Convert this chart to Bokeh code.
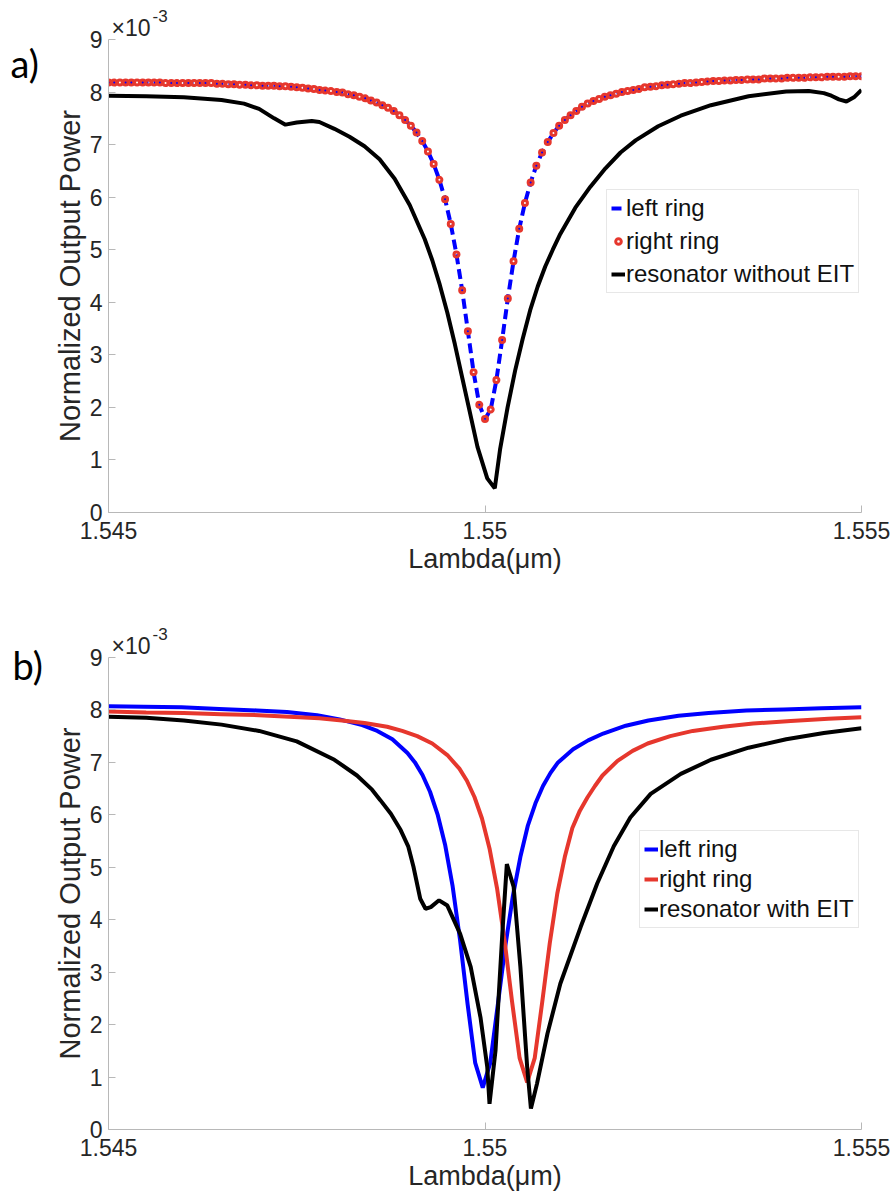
import numpy as np
from bokeh.plotting import figure
from bokeh.models import Range1d, FixedTicker, Legend, LegendItem, Label
from bokeh.layouts import column
from bokeh.embed import file_html
from bokeh.resources import INLINE

# ---------------- data (values in units of 1e-3) ----------------
x_ticks = [1.545, 1.55, 1.555]
x_tick_labels = ["1.545", "1.55", "1.555"]
y_ticks = [0, 1, 2, 3, 4, 5, 6, 7, 8, 9]

# panel a: both rings share the same sampling (133 samples)
lam_ring_a = np.linspace(1.545, 1.555, 133)
left_ring_a = [
    8.18, 8.18, 8.18, 8.18, 8.18, 8.18, 8.18, 8.18, 8.18, 8.18,
    8.17, 8.17, 8.17, 8.17, 8.17, 8.17, 8.17, 8.17, 8.17, 8.16,
    8.16, 8.15, 8.15, 8.14, 8.14, 8.13, 8.13, 8.12, 8.12, 8.12,
    8.11, 8.11, 8.10, 8.09, 8.08, 8.07, 8.06, 8.04, 8.03, 8.02,
    8.00, 7.99, 7.96, 7.94, 7.91, 7.88, 7.84, 7.80, 7.75, 7.70,
    7.64, 7.56, 7.47, 7.36, 7.23, 7.07, 6.87, 6.63, 6.33, 5.96,
    5.49, 4.91, 4.23, 3.45, 2.67, 2.05, 1.78, 1.96, 2.52, 3.28,
    4.07, 4.78, 5.40, 5.89, 6.28, 6.60, 6.85, 7.05, 7.22, 7.36,
    7.47, 7.56, 7.64, 7.72, 7.78, 7.83, 7.87, 7.91, 7.94, 7.97,
    8.00, 8.02, 8.04, 8.06, 8.09, 8.10, 8.11, 8.13, 8.14, 8.15,
    8.16, 8.17, 8.17, 8.18, 8.19, 8.20, 8.21, 8.21, 8.22, 8.22,
    8.23, 8.23, 8.24, 8.24, 8.24, 8.26, 8.26, 8.26, 8.26, 8.27,
    8.27, 8.27, 8.27, 8.28, 8.28, 8.28, 8.29, 8.29, 8.29, 8.29,
    8.30, 8.30, 8.30,
]
right_ring_a = list(left_ring_a)  # identical rings in panel a

lam_res_a = [1.5450, 1.5455, 1.5460, 1.5465, 1.5468, 1.5470, 1.5472, 1.54735,
             1.5475, 1.5477, 1.5478, 1.5480, 1.5482, 1.5484, 1.5486, 1.5488,
             1.5490, 1.5492, 1.5493, 1.5494, 1.5495, 1.5496, 1.5497, 1.5498,
             1.5499, 1.55003, 1.55013, 1.5502, 1.5503, 1.5504, 1.5505, 1.5506,
             1.5507, 1.5508, 1.5509, 1.5510, 1.5512, 1.5514, 1.5516, 1.5518,
             1.5520, 1.5523, 1.5526, 1.5530, 1.5535, 1.5540, 1.5543, 1.5545,
             1.5546, 1.5547, 1.5548, 1.5549, 1.5550]
res_a = [7.93, 7.92, 7.90, 7.85, 7.78, 7.68, 7.50, 7.38,
         7.42, 7.45, 7.43, 7.30, 7.15, 6.97, 6.72, 6.35,
         5.85, 5.20, 4.80, 4.33, 3.80, 3.20, 2.55, 1.90,
         1.25, 0.65, 0.46, 1.20, 2.00, 2.70, 3.30, 3.85,
         4.30, 4.68, 5.00, 5.30, 5.80, 6.20, 6.55, 6.85,
         7.08, 7.35, 7.55, 7.75, 7.92, 8.01, 8.02, 7.98,
         7.93, 7.86, 7.82, 7.90, 8.04]

# panel b
lam_left_b = [1.5450, 1.54547, 1.54597, 1.54647, 1.54697, 1.54737, 1.54777, 1.54807,
              1.54837, 1.54857, 1.54877, 1.54897, 1.54907, 1.54917, 1.54927, 1.54937,
              1.54947, 1.54957, 1.54967, 1.54977, 1.54987, 1.54997, 1.55007, 1.55017,
              1.55027, 1.55037, 1.55047, 1.55057, 1.55067, 1.55077, 1.55087, 1.55097,
              1.55117, 1.55137, 1.55157, 1.55187, 1.55217, 1.55257, 1.55297, 1.55347,
              1.55397, 1.55447, 1.5550]
left_ring_b = [8.07, 8.06, 8.05, 8.02, 7.99, 7.96, 7.90, 7.82,
               7.71, 7.60, 7.44, 7.18, 7.00, 6.76, 6.44, 6.01,
               5.43, 4.64, 3.60, 2.38, 1.27, 0.80, 1.27, 2.38,
               3.50, 4.45, 5.20, 5.80, 6.22, 6.55, 6.80, 7.00,
               7.25, 7.42, 7.55, 7.70, 7.80, 7.89, 7.94, 7.99,
               8.01, 8.03, 8.05]

lam_right_b = [1.5450, 1.5455, 1.5460, 1.5465, 1.5470, 1.5474, 1.5478, 1.5481,
               1.5484, 1.5487, 1.5489, 1.5491, 1.5493, 1.5495, 1.54966, 1.54976,
               1.54986, 1.54996, 1.55006, 1.55016, 1.55026, 1.55036, 1.55046, 1.55056,
               1.55066, 1.55076, 1.55086, 1.55096, 1.55106, 1.55116, 1.55126, 1.55136,
               1.55146, 1.55156, 1.55176, 1.55196, 1.55216, 1.55246, 1.55276, 1.55316,
               1.55356, 1.55406, 1.55456, 1.5550]
right_ring_b = [7.97, 7.95, 7.94, 7.92, 7.90, 7.87, 7.84, 7.80,
                7.75, 7.68, 7.60, 7.50, 7.36, 7.14, 6.88, 6.65,
                6.34, 5.93, 5.36, 4.60, 3.60, 2.43, 1.36, 0.90,
                1.36, 2.43, 3.55, 4.50, 5.20, 5.75, 6.08, 6.33,
                6.55, 6.75, 7.03, 7.22, 7.36, 7.50, 7.60, 7.68,
                7.74, 7.79, 7.83, 7.86]

lam_res_b = [1.5450, 1.5455, 1.5460, 1.5465, 1.5470, 1.5475, 1.5480, 1.5483,
             1.5485, 1.54861, 1.54875, 1.54888, 1.54898, 1.54905, 1.54914, 1.54921,
             1.54928, 1.54939, 1.54950, 1.54967, 1.54981, 1.54994, 1.55003, 1.55006,
             1.55014, 1.55023, 1.55029, 1.55038, 1.55047, 1.55056, 1.55061, 1.55069,
             1.55083, 1.55100, 1.55127, 1.55149, 1.55171, 1.55193, 1.5522, 1.5526,
             1.5530, 1.5535, 1.5540, 1.5545, 1.5550]
res_b = [7.87, 7.85, 7.80, 7.72, 7.60, 7.40, 7.05, 6.75,
         6.48, 6.28, 6.02, 5.71, 5.40, 5.01, 4.40, 4.21,
         4.24, 4.37, 4.27, 3.73, 3.10, 2.14, 1.19, 0.49,
         1.51, 3.73, 5.06, 4.63, 3.10, 1.19, 0.40, 0.87,
         1.83, 2.78, 3.86, 4.69, 5.40, 5.95, 6.40, 6.78,
         7.05, 7.28, 7.44, 7.56, 7.65]

BLUE = "#0000ff"
RED = "#e6372d"
BLACK = "#000000"
FONT = "Liberation Sans"
TXT = "#262626"
AXC = "#b8b8b8"


def make_fig(height, top, bottom, mult_y):
    p = figure(width=896, height=height, x_range=Range1d(1.545, 1.555),
               y_range=Range1d(0, 9), output_backend="svg", toolbar_location=None,
               min_border_left=108, min_border_right=35,
               min_border_top=top, min_border_bottom=bottom)
    p.xgrid.visible = False
    p.ygrid.visible = False
    p.outline_line_color = None
    p.background_fill_color = "white"
    p.border_fill_color = "white"
    p.xaxis.ticker = FixedTicker(ticks=x_ticks)
    p.xaxis.major_label_overrides = {t: s for t, s in zip(x_ticks, x_tick_labels)}
    p.yaxis.ticker = FixedTicker(ticks=y_ticks)
    for ax in (p.xaxis[0], p.yaxis[0]):
        ax.axis_line_color = AXC
        ax.axis_line_width = 1
        ax.major_tick_line_color = AXC
        ax.major_tick_in = 7
        ax.major_tick_out = 0
        ax.minor_tick_line_color = None
        ax.major_label_text_font = FONT
        ax.major_label_text_font_size = "23px"
        ax.major_label_text_color = TXT
        ax.axis_label_text_font = FONT
        ax.axis_label_text_font_style = "normal"
        ax.axis_label_text_color = TXT
    p.xaxis.axis_label_text_font_size = "27px"
    p.yaxis.axis_label_text_font_size = "29px"
    p.xaxis.major_label_standoff = 9
    p.yaxis.major_label_standoff = 6
    p.xaxis.axis_label = "Lambda(\u03bcm)"
    p.yaxis.axis_label = "Normalized Output Power"
    p.xaxis.axis_label_standoff = 2
    p.yaxis.axis_label_standoff = 1
    # exponent marker "x10^-3" (labels live in side panels so they are not clipped)
    p.add_layout(Label(x=111, y=mult_y, x_units="canvas", y_units="canvas", text="\u00d710",
                       text_font=FONT, text_font_size="23px", text_color=TXT,
                       text_baseline="middle", text_align="left"), "above")
    p.add_layout(Label(x=152, y=mult_y - 12, x_units="canvas", y_units="canvas", text="-3",
                       text_font=FONT, text_font_size="17px", text_color=TXT,
                       text_baseline="middle", text_align="left"), "right")
    return p


def style_legend(leg, spacing):
    leg.label_text_font = FONT
    leg.label_text_font_size = "24px"
    leg.label_text_color = "#111111"
    leg.glyph_width = 14
    leg.glyph_height = 24
    leg.label_height = 24
    leg.label_standoff = 1
    leg.padding = 4
    leg.spacing = spacing
    leg.margin = 0
    leg.border_line_color = "#cfcfcf"
    leg.border_line_width = 1
    leg.background_fill_alpha = 1


# ---------------- panel a ----------------
pa = make_fig(590, 39, 78, 27)
ra1 = pa.line(lam_ring_a, left_ring_a, line_color=BLUE, line_width=4, line_dash="10 5")
ra2 = pa.scatter(lam_ring_a, right_ring_a, marker="circle", size=5, fill_color=None,
                 line_color=RED, line_width=3)
ra3 = pa.line(lam_res_a, res_a, line_color=BLACK, line_width=4)
leg_a = Legend(items=[LegendItem(label="left ring", renderers=[ra1]),
                      LegendItem(label="right ring", renderers=[ra2]),
                      LegendItem(label="resonator without EIT", renderers=[ra3])],
               location=(498, 219))
style_legend(leg_a, 5)
pa.add_layout(leg_a)
pa.add_layout(Label(x=10, y=62, x_units="canvas", y_units="canvas", text="a)",
                    text_font="Lato", text_font_size="38px", text_color="#000000",
                    text_baseline="middle", text_align="left"), "left")

# ---------------- panel b ----------------
pb = make_fig(608, 67, 69, 55)
rb1 = pb.line(lam_left_b, left_ring_b, line_color=BLUE, line_width=4)
rb2 = pb.line(lam_right_b, right_ring_b, line_color=RED, line_width=4)
rb3 = pb.line(lam_res_b, res_b, line_color=BLACK, line_width=4)
leg_b = Legend(items=[LegendItem(label="left ring", renderers=[rb1]),
                      LegendItem(label="right ring", renderers=[rb2]),
                      LegendItem(label="resonator with EIT", renderers=[rb3])],
               location=(531, 201))
style_legend(leg_b, 2)
pb.add_layout(leg_b)
pb.add_layout(Label(x=12, y=74, x_units="canvas", y_units="canvas", text="b)",
                    text_font="Lato", text_font_size="38px", text_color="#000000",
                    text_baseline="middle", text_align="left"), "left")

page = column(pa, pb, spacing=0)
open("out.html", "w").write(file_html(page, INLINE))
